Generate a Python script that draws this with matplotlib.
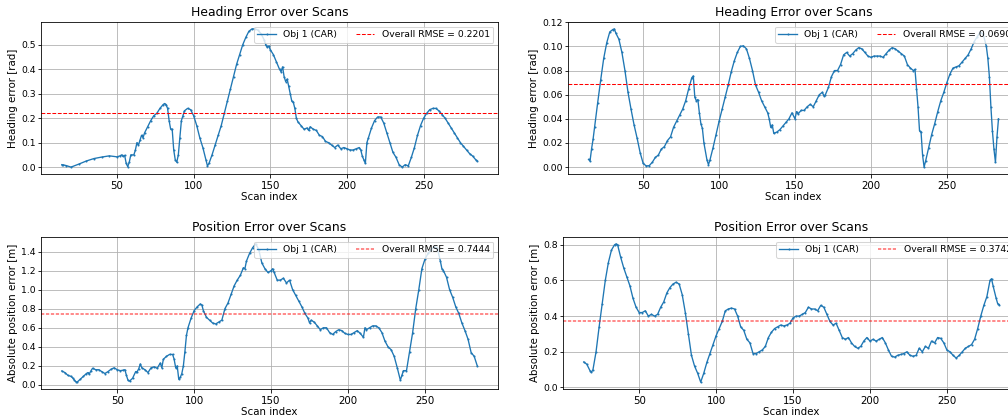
import matplotlib
matplotlib.use("Agg")
import matplotlib.pyplot as plt
from matplotlib.ticker import MultipleLocator

# ── Data (scan index -> error) ────────────────────────────────────

head_a_x = [14, 15, 17, 20, 25, 30, 35, 40, 45, 50, 52, 53, 54, 55, 56, 57, 58, 59, 61, 62, 63,
            64, 65, 66, 67, 68, 70, 72, 74, 76, 78, 80, 81, 82, 83, 84, 85, 86, 87, 88, 89, 90,
            91, 92, 93, 94, 96, 98, 100, 102, 104, 106, 108, 109, 110, 112, 114, 116, 118, 120,
            122, 124, 126, 128, 130, 132, 134, 136, 138, 140, 142, 144, 146, 147, 148, 149, 150,
            152, 154, 156, 157, 158, 159, 160, 161, 162, 163, 164, 165, 166, 167, 168, 170, 172,
            174, 175, 176, 178, 180, 182, 184, 186, 188, 190, 192, 194, 196, 198, 200, 202, 204,
            206, 208, 209, 210, 211, 212, 213, 214, 216, 218, 220, 222, 224, 226, 228, 230, 232,
            234, 236, 238, 240, 242, 244, 246, 248, 250, 252, 254, 256, 258, 260, 262, 264, 266,
            268, 270, 272, 274, 276, 278, 280, 282, 284, 285]
head_a_y = [0.010, 0.009, 0.006, 0.000, 0.012, 0.025, 0.035, 0.041, 0.046, 0.042, 0.046, 0.050,
            0.044, 0.048, 0.015, 0.002, 0.020, 0.050, 0.050, 0.070, 0.100, 0.090, 0.110, 0.130,
            0.120, 0.140, 0.165, 0.190, 0.210, 0.220, 0.240, 0.255, 0.260, 0.255, 0.240, 0.190,
            0.155, 0.155, 0.070, 0.030, 0.020, 0.050, 0.120, 0.190, 0.210, 0.230, 0.240, 0.235,
            0.210, 0.170, 0.120, 0.080, 0.030, 0.005, 0.015, 0.050, 0.090, 0.130, 0.170, 0.220,
            0.270, 0.320, 0.370, 0.420, 0.460, 0.500, 0.530, 0.555, 0.565, 0.565, 0.560, 0.545,
            0.520, 0.500, 0.490, 0.495, 0.480, 0.460, 0.430, 0.400, 0.390, 0.410, 0.370, 0.350,
            0.360, 0.330, 0.300, 0.270, 0.265, 0.240, 0.200, 0.185, 0.170, 0.155, 0.160, 0.150,
            0.165, 0.155, 0.150, 0.130, 0.125, 0.105, 0.100, 0.090, 0.080, 0.090, 0.075, 0.080,
            0.075, 0.070, 0.070, 0.075, 0.080, 0.070, 0.045, 0.030, 0.015, 0.100, 0.120, 0.160,
            0.190, 0.205, 0.205, 0.180, 0.140, 0.100, 0.060, 0.040, 0.010, 0.000, 0.010, 0.005,
            0.040, 0.080, 0.130, 0.170, 0.200, 0.220, 0.235, 0.240, 0.240, 0.230, 0.215, 0.200,
            0.180, 0.160, 0.140, 0.120, 0.100, 0.085, 0.070, 0.055, 0.045, 0.030, 0.025]

head_b_x = [14, 15, 16, 17, 18, 20, 22, 24, 26, 28, 30, 31, 32, 34, 36, 38, 40, 42, 44, 46, 48,
            50, 52, 54, 56, 58, 60, 62, 64, 66, 68, 70, 72, 74, 76, 78, 80, 82, 83, 84, 85, 86,
            87, 88, 89, 90, 92, 93, 94, 96, 98, 100, 102, 104, 106, 108, 110, 112, 114, 116, 118,
            120, 122, 124, 126, 128, 130, 132, 133, 134, 135, 136, 138, 140, 142, 144, 146, 148,
            150, 151, 152, 154, 156, 158, 160, 162, 164, 166, 168, 169, 170, 172, 174, 176, 178,
            180, 182, 184, 186, 188, 190, 192, 194, 196, 198, 200, 202, 204, 206, 208, 210, 212,
            214, 216, 218, 220, 222, 224, 226, 228, 229, 230, 231, 232, 233, 234, 235, 236, 238,
            240, 242, 244, 246, 248, 250, 252, 254, 256, 258, 260, 262, 264, 266, 268, 270, 272,
            274, 276, 277, 278, 279, 280, 281, 282, 283, 284]
head_b_y = [0.0064, 0.0050, 0.0150, 0.0230, 0.0330, 0.0530, 0.0720, 0.0900, 0.1030, 0.1120,
            0.1140, 0.1145, 0.1110, 0.1060, 0.0950, 0.0800, 0.0620, 0.0480, 0.0350, 0.0240,
            0.0120, 0.0030, 0.0010, 0.0012, 0.0040, 0.0080, 0.0100, 0.0150, 0.0170, 0.0220,
            0.0250, 0.0330, 0.0380, 0.0430, 0.0480, 0.0550, 0.0650, 0.0740, 0.0755, 0.0580,
            0.0550, 0.0560, 0.0450, 0.0360, 0.0320, 0.0200, 0.0060, 0.0020, 0.0060, 0.0160,
            0.0270, 0.0380, 0.0480, 0.0580, 0.0680, 0.0790, 0.0880, 0.0950, 0.1000, 0.1005,
            0.0980, 0.0900, 0.0800, 0.0680, 0.0620, 0.0550, 0.0500, 0.0450, 0.0400, 0.0330,
            0.0350, 0.0280, 0.0290, 0.0310, 0.0340, 0.0370, 0.0400, 0.0450, 0.0400, 0.0460,
            0.0440, 0.0470, 0.0470, 0.0500, 0.0520, 0.0500, 0.0550, 0.0600, 0.0620, 0.0590,
            0.0600, 0.0660, 0.0750, 0.0800, 0.0800, 0.0850, 0.0930, 0.0950, 0.0920, 0.0940,
            0.0970, 0.0990, 0.0980, 0.0950, 0.0920, 0.0910, 0.0920, 0.0920, 0.0920, 0.0910,
            0.0940, 0.0970, 0.0990, 0.0980, 0.0960, 0.0940, 0.0920, 0.0850, 0.0820, 0.0800,
            0.0810, 0.0650, 0.0500, 0.0300, 0.0290, 0.0100, 0.0000, 0.0050, 0.0160, 0.0270,
            0.0360, 0.0460, 0.0550, 0.0620, 0.0700, 0.0770, 0.0820, 0.0830, 0.0840, 0.0870,
            0.0900, 0.0930, 0.0980, 0.1040, 0.1080, 0.1120, 0.1100, 0.1000, 0.0900, 0.0750,
            0.0500, 0.0300, 0.0150, 0.0040, 0.0250, 0.0400]

pos_a_x = [14, 16, 18, 20, 21, 22, 23, 24, 26, 28, 30, 31, 32, 33, 34, 36, 38, 40, 42, 44, 46,
           48, 50, 52, 54, 55, 56, 57, 58, 60, 62, 63, 64, 65, 66, 68, 70, 72, 74, 76, 78, 79,
           80, 82, 84, 86, 87, 88, 89, 90, 91, 92, 93, 94, 95, 96, 98, 100, 102, 104, 105, 106,
           108, 110, 112, 114, 116, 118, 120, 122, 124, 126, 128, 130, 132, 133, 134, 136, 138,
           140, 142, 144, 146, 148, 150, 151, 152, 154, 156, 158, 160, 162, 164, 166, 168, 170,
           172, 174, 175, 176, 178, 180, 182, 184, 186, 188, 190, 192, 194, 196, 198, 200, 202,
           204, 206, 208, 210, 211, 212, 214, 216, 218, 220, 222, 224, 226, 228, 230, 232, 234,
           235, 236, 238, 240, 242, 244, 246, 248, 250, 252, 254, 256, 258, 260, 261, 262, 264,
           266, 268, 270, 272, 274, 276, 278, 280, 282, 284]
pos_a_y = [0.147, 0.130, 0.100, 0.090, 0.075, 0.055, 0.035, 0.030, 0.060, 0.090, 0.120, 0.130,
           0.120, 0.150, 0.175, 0.160, 0.160, 0.140, 0.120, 0.140, 0.165, 0.180, 0.160, 0.150,
           0.155, 0.160, 0.100, 0.050, 0.040, 0.070, 0.140, 0.140, 0.170, 0.220, 0.180, 0.160,
           0.130, 0.180, 0.190, 0.175, 0.230, 0.180, 0.270, 0.300, 0.320, 0.320, 0.270, 0.180,
           0.200, 0.060, 0.080, 0.120, 0.200, 0.350, 0.520, 0.600, 0.700, 0.780, 0.820, 0.850,
           0.840, 0.780, 0.710, 0.680, 0.650, 0.640, 0.660, 0.680, 0.800, 0.860, 0.950, 1.040,
           1.100, 1.150, 1.230, 1.220, 1.300, 1.380, 1.440, 1.480, 1.420, 1.280, 1.220, 1.180,
           1.200, 1.220, 1.180, 1.100, 1.100, 1.120, 1.070, 1.100, 1.000, 0.940, 0.880, 0.820,
           0.750, 0.700, 0.650, 0.680, 0.660, 0.620, 0.580, 0.600, 0.600, 0.550, 0.530, 0.560,
           0.580, 0.570, 0.540, 0.530, 0.530, 0.550, 0.570, 0.540, 0.500, 0.600, 0.580, 0.600,
           0.620, 0.620, 0.600, 0.550, 0.460, 0.400, 0.370, 0.300, 0.180, 0.050, 0.100, 0.150,
           0.150, 0.350, 0.550, 0.800, 1.000, 1.220, 1.320, 1.380, 1.420, 1.450, 1.440, 1.300,
           1.220, 1.200, 1.130, 1.000, 0.920, 0.820, 0.750, 0.650, 0.570, 0.480, 0.340, 0.300,
           0.200]

pos_b_x = [14, 16, 18, 19, 20, 22, 24, 26, 28, 30, 32, 34, 35, 36, 38, 40, 42, 44, 46, 48, 50,
           52, 54, 56, 58, 60, 62, 64, 66, 68, 70, 72, 74, 76, 78, 80, 82, 84, 86, 88, 90, 92,
           94, 96, 98, 100, 102, 104, 106, 108, 110, 112, 114, 116, 118, 120, 122, 124, 126,
           128, 130, 132, 134, 136, 138, 140, 142, 144, 146, 148, 150, 152, 154, 156, 158, 160,
           162, 164, 166, 168, 170, 172, 174, 176, 178, 180, 182, 184, 186, 188, 190, 192, 194,
           196, 198, 200, 202, 204, 206, 208, 210, 212, 214, 216, 218, 220, 222, 224, 226, 228,
           230, 232, 234, 236, 238, 240, 242, 244, 246, 248, 250, 252, 254, 256, 258, 260, 262,
           264, 266, 268, 270, 272, 274, 276, 278, 279, 280, 282, 283, 284]
pos_b_y = [0.143, 0.130, 0.095, 0.085, 0.100, 0.200, 0.340, 0.470, 0.600, 0.700, 0.770, 0.800,
           0.805, 0.800, 0.730, 0.670, 0.620, 0.570, 0.500, 0.450, 0.420, 0.420, 0.430, 0.400,
           0.410, 0.400, 0.410, 0.450, 0.480, 0.530, 0.560, 0.580, 0.590, 0.580, 0.520, 0.420,
           0.300, 0.180, 0.120, 0.080, 0.030, 0.080, 0.140, 0.190, 0.240, 0.290, 0.330, 0.370,
           0.430, 0.440, 0.445, 0.440, 0.400, 0.340, 0.320, 0.270, 0.250, 0.190, 0.190, 0.200,
           0.210, 0.230, 0.280, 0.310, 0.330, 0.340, 0.350, 0.345, 0.350, 0.360, 0.390, 0.400,
           0.400, 0.410, 0.420, 0.450, 0.440, 0.440, 0.430, 0.460, 0.450, 0.410, 0.370, 0.350,
           0.360, 0.320, 0.280, 0.270, 0.280, 0.250, 0.230, 0.220, 0.230, 0.260, 0.280, 0.260,
           0.270, 0.260, 0.270, 0.280, 0.250, 0.210, 0.175, 0.170, 0.180, 0.185, 0.190, 0.200,
           0.180, 0.175, 0.180, 0.220, 0.200, 0.230, 0.220, 0.260, 0.250, 0.280, 0.275, 0.250,
           0.210, 0.200, 0.180, 0.165, 0.180, 0.200, 0.220, 0.230, 0.240, 0.270, 0.330, 0.400,
           0.460, 0.510, 0.600, 0.610, 0.570, 0.500, 0.470, 0.465]

rmse_head_a = 0.2201
rmse_head_b = 0.0690
rmse_pos_a = 0.7444
rmse_pos_b = 0.3742

LABEL = "Obj 1 (CAR)"


def draw_panel(ax, x, y, rmse, title, ylabel, rmse_style):
    ax.plot(x, y, marker=".", markersize=2, linewidth=1.3, color="#1f77b4", label=LABEL)
    ax.axhline(rmse, label=f"Overall RMSE = {rmse:.4f}", **rmse_style)
    ax.set_title(title, fontsize=12)
    ax.set_xlabel("Scan index", fontsize=10, labelpad=1)
    ax.set_ylabel(ylabel, fontsize=10, labelpad=3)
    ax.tick_params(axis="x", labelsize=10)
    ax.tick_params(axis="y", labelsize=9, length=3, pad=2)
    ax.grid(True)
    ax.legend(loc="upper right", ncol=2, fontsize=9)


fig = plt.figure(figsize=(1008 / 74, 416 / 74), dpi=74)

# right column runs past the canvas edge on purpose (cropped like the reference)
ax_tl = fig.add_axes([0.0407, 0.5817, 0.4534, 0.3654])
ax_tr = fig.add_axes([0.5635, 0.5817, 0.4474, 0.3654])
ax_bl = fig.add_axes([0.0407, 0.0649, 0.4534, 0.3654])
ax_br = fig.add_axes([0.5585, 0.0649, 0.4534, 0.3654])

head_style = dict(color="red", linestyle="--", linewidth=1.0)
pos_style = dict(color="red", linestyle=(0, (2, 1)), linewidth=1.6, alpha=0.55)

draw_panel(ax_tl, head_a_x, head_a_y, rmse_head_a, "Heading Error over Scans",
           "Heading error [rad]", head_style)
draw_panel(ax_tr, head_b_x, head_b_y, rmse_head_b, "Heading Error over Scans",
           "Heading error [rad]", head_style)
draw_panel(ax_bl, pos_a_x, pos_a_y, rmse_pos_a, "Position Error over Scans",
           "Absolute position error [m]", pos_style)
draw_panel(ax_br, pos_b_x, pos_b_y, rmse_pos_b, "Position Error over Scans",
           "Absolute position error [m]", pos_style)
ax_bl.yaxis.set_major_locator(MultipleLocator(0.2))

fig.savefig("out.png", dpi=74)
